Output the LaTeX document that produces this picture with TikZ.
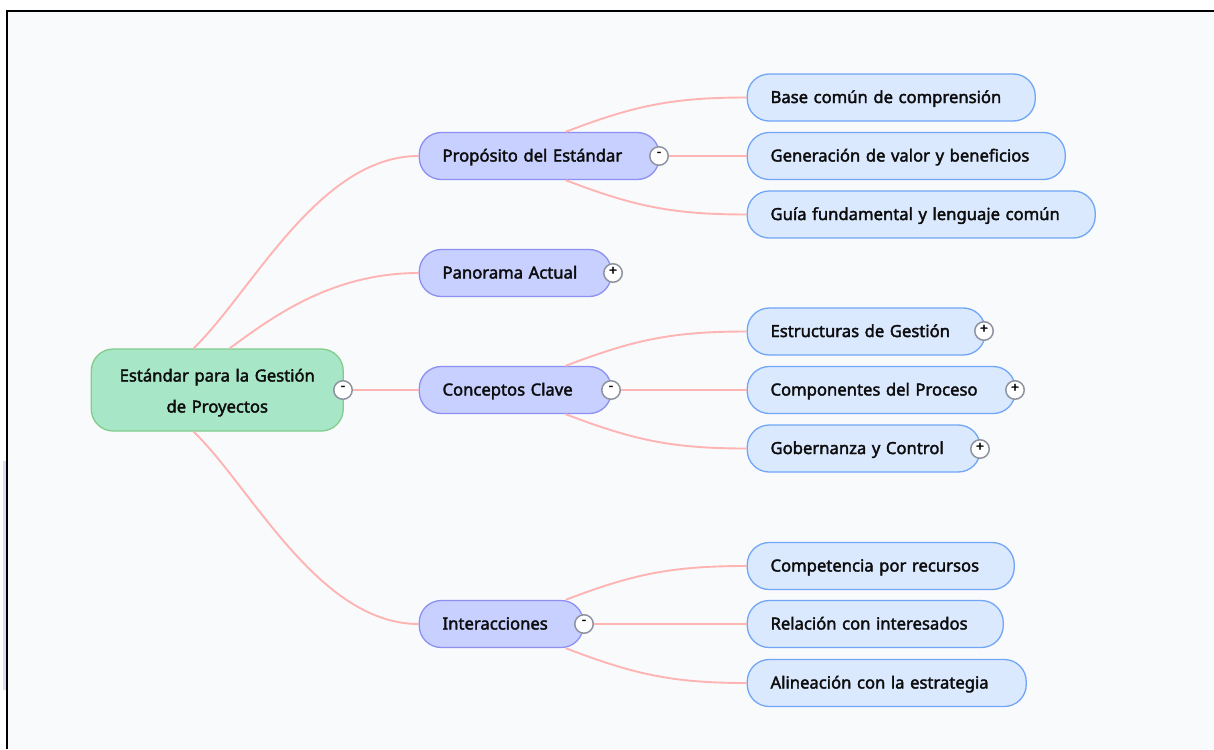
\documentclass[tikz,border=0pt]{standalone}
\usepackage{fontspec}
\newfontfamily\mfont[FakeBold=2.2]{Noto Sans}
\newfontfamily\tfont[FakeBold=1.2]{Noto Sans}
\newcommand{\lbl}[1]{\hspace*{-0.7pt}#1}
\definecolor{bgc}{HTML}{F9FAFC}
\definecolor{linkc}{HTML}{FFB4B4}
\definecolor{rootf}{HTML}{A8E6C8}
\definecolor{rootd}{HTML}{82CC8C}
\definecolor{lonef}{HTML}{C7D0FF}
\definecolor{loned}{HTML}{8C90F0}
\definecolor{ltwof}{HTML}{DBE9FF}
\definecolor{ltwod}{HTML}{70A6F5}
\definecolor{stripc}{HTML}{D8DDF2}
\definecolor{togd}{HTML}{8E939E}
\tikzset{
  x=1pt,y=-1pt,
  base/.style={anchor=west,inner ysep=0pt,inner xsep=24pt,line width=1.3pt,align=left,
    font=\mfont\fontsize{16.65}{31}\selectfont,text=black!95},
  rootnode/.style={base,draw=rootd,fill=rootf,rounded corners=22pt,minimum height=82pt,inner xsep=0pt,align=center},
  lone/.style={base,draw=loned,fill=lonef,rounded corners=22pt,minimum height=47pt,text height=16pt,text depth=5pt},
  ltwo/.style={base,draw=ltwod,fill=ltwof,rounded corners=22pt,minimum height=47pt,text height=16pt,text depth=5pt},
  link/.style={draw=linkc,line width=1.9pt},
  tog/.style={circle,draw=togd,fill=white,line width=1.5pt,minimum size=18.5pt,inner sep=0pt,font=\tfont\fontsize{14}{14}\selectfont},
}
\begin{document}
\begin{tikzpicture}
\useasboundingbox (0,0) rectangle (1214,749);
\fill[white] (0,0) rectangle (1214,749);
\fill[bgc] (7,11) rectangle (1214,749);
\fill[stripc] (3,461) rectangle (6,690);
\draw[black,line width=2pt] (7,749) -- (7,11) -- (1214,11);
% nodes
\node[rootnode,text width=252pt] (root) at (90.6,390) {\rule{0pt}{18pt}Estándar para la Gestión\\de Proyectos};
\node[lone,text width=192pt] (a) at (418.6,156) {\lbl{Propósito del Estándar}};
\node[lone,text width=144pt] (b) at (418.6,273) {\lbl{Panorama Actual}};
\node[lone,text width=144pt] (c) at (418.6,390) {\lbl{Conceptos Clave}};
\node[lone,text width=116pt] (d) at (418.6,624) {\lbl{Interacciones}};
\node[ltwo,text width=240pt] (a1) at (746.6,97.5) {\lbl{Base común de comprensión}};
\node[ltwo,text width=270pt] (a2) at (746.6,156) {\lbl{Generación de valor y beneficios}};
\node[ltwo,text width=300pt] (a3) at (746.6,214.5) {\lbl{Guía fundamental y lenguaje común}};
\node[ltwo,text width=190pt] (c1) at (746.6,331.5) {\lbl{Estructuras de Gestión}};
\node[ltwo,text width=220pt] (c2) at (746.6,390) {\lbl{Componentes del Proceso}};
\node[ltwo,text width=185pt] (c3) at (746.6,448.5) {\lbl{Gobernanza y Control}};
\node[ltwo,text width=219pt] (d1) at (746.6,566) {\lbl{Competencia por recursos}};
\node[ltwo,text width=208pt] (d2) at (746.6,624) {\lbl{Relación con interesados}};
\node[ltwo,text width=231pt] (d3) at (746.6,683) {\lbl{Alineación con la estrategia}};
% connectors
\path[link] ([xshift=103pt]root.north west) .. controls +(58,-56) and +(-100,0) .. (a.west);
\path[link] ([xshift=139pt]root.north west) .. controls +(40,-29) and +(-89,0) .. (b.west);
\path[link] (root.east) -- (c.west);
\path[link] ([xshift=103pt]root.south west) .. controls +(58,56) and +(-100,0) .. (d.west);
\path[link] ([xshift=147pt]a.north west) .. controls +(68,-26) and +(-75,0) .. (a1.west);
\path[link] (a.east) -- (a2.west);
\path[link] ([xshift=147pt]a.south west) .. controls +(68,26) and +(-75,0) .. (a3.west);
\path[link] ([xshift=147pt]c.north west) .. controls +(68,-26) and +(-75,0) .. (c1.west);
\path[link] (c.east) -- (c2.west);
\path[link] ([xshift=147pt]c.south west) .. controls +(68,26) and +(-75,0) .. (c3.west);
\path[link] ([xshift=147pt]d.north west) .. controls +(68,-26) and +(-75,0) .. (d1.west);
\path[link] (d.east) -- (d2.west);
\path[link] ([xshift=147pt]d.south west) .. controls +(68,26) and +(-75,0) .. (d3.west);
% toggles
\node[tog] (t0) at (343,390) {\raisebox{4pt}{-}};
\node[tog] (t1) at (659,156) {\raisebox{4pt}{-}};
\node[tog] (t2) at (613,273) {\raisebox{4pt}{+}};
\node[tog] (t3) at (611,390) {\raisebox{4pt}{-}};
\node[tog] (t4) at (584,624) {\raisebox{4pt}{-}};
\node[tog] (t5) at (984,331) {\raisebox{4pt}{+}};
\node[tog] (t6) at (1015,390) {\raisebox{4pt}{+}};
\node[tog] (t7) at (980,449) {\raisebox{4pt}{+}};
\end{tikzpicture}
\end{document}
